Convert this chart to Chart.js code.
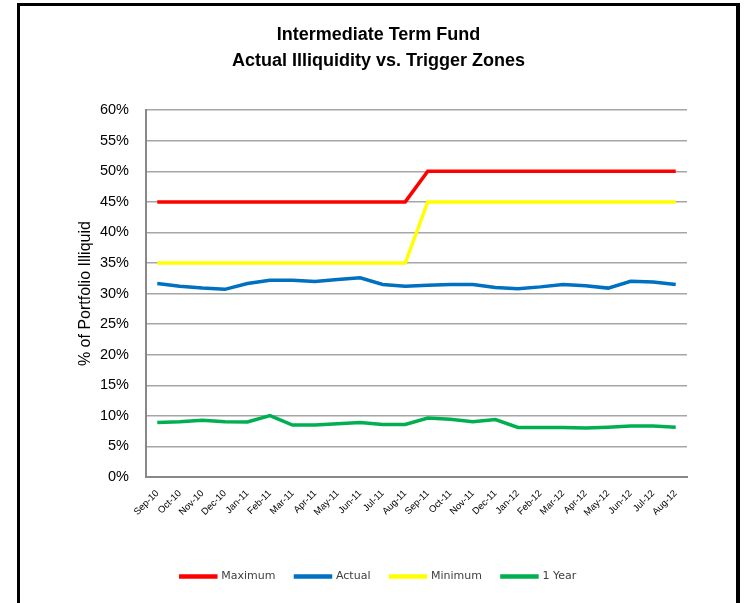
<!DOCTYPE html>
<html lang="en">
  <head>
    <meta charset="UTF-8" />
    <title>Intermediate Term Fund</title>
    <script src="https://cdn.jsdelivr.net/npm/chart.js"></script>
    <style>
      html, body { margin: 0; padding: 0; background: #fff; overflow: hidden; }
      .wrap { position: relative; width: 750px; height: 603px; }
      .frame {
        position: absolute; left: 17px; top: 3px; width: 723px; height: 700px;
        box-sizing: border-box; border-left: 3px solid #000; border-top: 3px solid #000;
        border-right: 4px solid #000; pointer-events: none;
      }
    </style>
  </head>
  <body>
    <div class="wrap">
      <canvas id="chart" width="750" height="603"></canvas>
      <div class="frame"></div>
    </div>
    <script>
      const months = [
        "Sep-10", "Oct-10", "Nov-10", "Dec-10", "Jan-11", "Feb-11",
        "Mar-11", "Apr-11", "May-11", "Jun-11", "Jul-11", "Aug-11",
        "Sep-11", "Oct-11", "Nov-11", "Dec-11", "Jan-12", "Feb-12",
        "Mar-12", "Apr-12", "May-12", "Jun-12", "Jul-12", "Aug-12",
      ];
      const maximum = [45, 45, 45, 45, 45, 45, 45, 45, 45, 45, 45, 45,
                       50, 50, 50, 50, 50, 50, 50, 50, 50, 50, 50, 50];
      const actual = [31.65, 31.2, 30.9, 30.7, 31.65, 32.2, 32.2, 32.0, 32.3, 32.6, 31.5, 31.2,
                      31.35, 31.5, 31.5, 31.0, 30.8, 31.1, 31.5, 31.3, 30.9, 32.0, 31.9, 31.5];
      const minimum = [35, 35, 35, 35, 35, 35, 35, 35, 35, 35, 35, 35,
                       45, 45, 45, 45, 45, 45, 45, 45, 45, 45, 45, 45];
      const oneYear = [8.9, 9.05, 9.3, 9.05, 9.0, 10.05, 8.5, 8.5, 8.7, 8.9, 8.6, 8.6,
                       9.65, 9.45, 9.05, 9.4, 8.1, 8.1, 8.1, 8.0, 8.15, 8.35, 8.35, 8.15];

      function line(label, data, color) {
        return {
          label: label,
          data: data,
          borderColor: color,
          backgroundColor: color,
          borderWidth: 3.5,
          pointRadius: 0,
          tension: 0,
        };
      }

      new Chart(document.getElementById("chart"), {
        type: "line",
        data: {
          labels: months,
          datasets: [
            line("Maximum", maximum, "#ff0000"),
            line("Actual", actual, "#0070c0"),
            line("Minimum", minimum, "#ffff00"),
            line("1 Year", oneYear, "#00b050"),
          ],
        },
        options: {
          responsive: false,
          animation: false,
          layout: { padding: { left: 70, right: 63, top: 0, bottom: 11 } },
          plugins: {
            title: {
              display: true,
              text: ["Intermediate Term Fund", "Actual Illiquidity vs. Trigger Zones"],
              color: "#000",
              font: { family: "Liberation Sans", size: 18, weight: "bold", lineHeight: 1.45 },
              padding: { top: 22, bottom: 36 },
            },
            legend: {
              position: "bottom",
              labels: {
                boxWidth: 35,
                boxHeight: 1,
                padding: 20,
                color: "#404040",
                font: { family: "DejaVu Sans", size: 11 },
              },
            },
            tooltip: { enabled: false },
          },
          scales: {
            x: {
              offset: true,
              grid: { display: false },
              border: { color: "#888", width: 2 },
              ticks: {
                autoSkip: false,
                minRotation: 45,
                maxRotation: 45,
                color: "#000",
                font: { family: "Liberation Sans", size: 9.5 },
              },
              afterFit: (scale) => { scale.height = 74; },
            },
            y: {
              min: 0,
              max: 60,
              grid: { color: "#a6a6a6", lineWidth: 1.5, drawTicks: false },
              border: { color: "#888", width: 2 },
              ticks: {
                stepSize: 5,
                padding: 17,
                color: "#000",
                font: { family: "Liberation Sans", size: 14.5 },
                callback: (v) => v + "%",
              },
              title: {
                display: true,
                text: "% of Portfolio Illiquid",
                color: "#000",
                font: { family: "Liberation Sans", size: 16 },
                padding: { top: 6, bottom: 0 },
              },
              afterFit: (scale) => { scale.width = 76; },
            },
          },
        },
      });
    </script>
  </body>
</html>
